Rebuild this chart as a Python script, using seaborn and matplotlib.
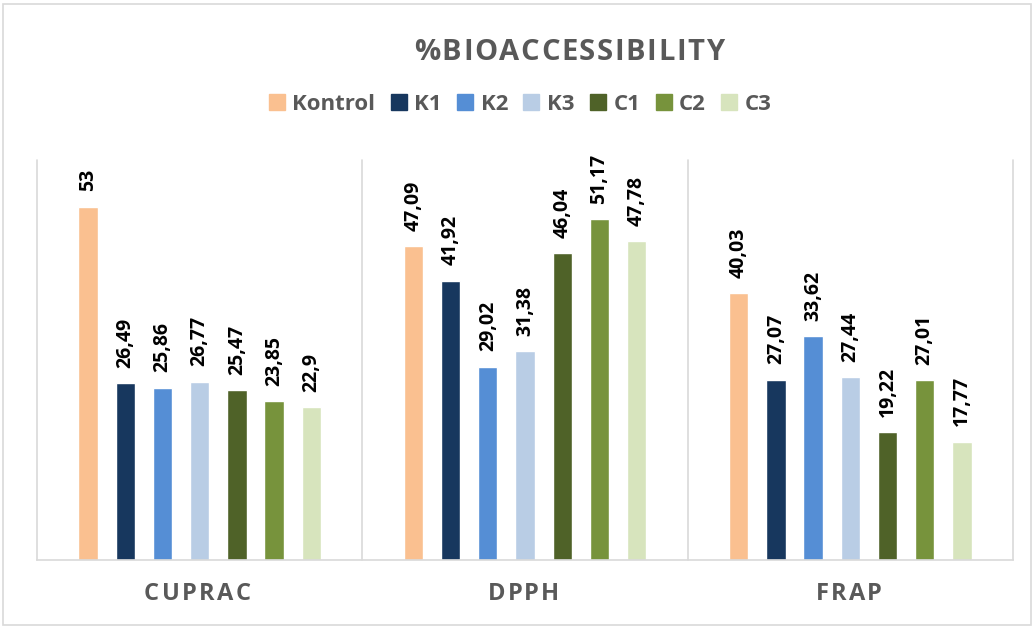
import matplotlib
matplotlib.use("Agg")
import matplotlib.pyplot as plt
from matplotlib.lines import Line2D
from matplotlib.patches import Rectangle
import seaborn as sns
import pandas as pd

# Bioaccessibility (%) per assay and sample
methods = ["CUPRAC", "DPPH", "FRAP"]
samples = ["Kontrol", "K1", "K2", "K3", "C1", "C2", "C3"]
cuprac = [53, 26.49, 25.86, 26.77, 25.47, 23.85, 22.9]
dpph = [47.09, 41.92, 29.02, 31.38, 46.04, 51.17, 47.78]
frap = [40.03, 27.07, 33.62, 27.44, 19.22, 27.01, 17.77]
colors = ["#FAC090", "#17375E", "#558ED5", "#B9CDE5", "#4F6228", "#77933C", "#D7E4BD"]

rows = []
for m, vals in zip(methods, [cuprac, dpph, frap]):
    for s, v in zip(samples, vals):
        rows.append({"method": m, "sample": s, "value": v})
df = pd.DataFrame(rows)

sns.set_theme(style="white")
plt.rcParams["font.family"] = ["Open Sans", "DejaVu Sans"]

W, H = 1035, 628
fig = plt.figure(figsize=(W / 100, H / 100), dpi=100)
ax = fig.add_axes([37 / W, 1 - 560 / H, (1013 - 37) / W, (560 - 160) / H])

sns.barplot(data=df, x="method", y="value", hue="sample", order=methods,
            hue_order=samples, palette=colors, width=0.8, gap=0.48,
            saturation=1, legend=False, ax=ax)

ax.set_xlim(-0.5, 2.5)
ax.set_ylim(0, 60)
ax.set_xlabel("")
ax.set_ylabel("")
ax.set_yticks([])
ax.set_xticks([])
for side in ["top", "right", "left"]:
    ax.spines[side].set_visible(False)
ax.spines["bottom"].set_color("#D9D9D9")
ax.spines["bottom"].set_linewidth(1.2)

# group separators
for xb in [-0.5, 0.5, 1.5, 2.5]:
    ax.axvline(xb, color="#D9D9D9", lw=1.2, clip_on=False)

# value labels above the bars
for container in ax.containers:
    for bar in container:
        h = bar.get_height()
        txt = f"{h:g}".replace(".", ",")
        ax.annotate(txt, (bar.get_x() + bar.get_width() / 2, h),
                    xytext=(0, 11), textcoords="offset points",
                    rotation=90, ha="center", va="bottom",
                    fontsize=14, fontweight="bold", color="black")

fig.canvas.draw()
renderer = fig.canvas.get_renderer()


def spaced_text(text, x0, x1, yc, size, color="#595959"):
    """Draw bold text spread between pixel x0 and x1 with even letter spacing."""
    widths = []
    for ch in text:
        t = fig.text(0, 0, ch, fontsize=size, fontweight="bold")
        widths.append(t.get_window_extent(renderer).width)
        t.remove()
    spacing = (x1 - x0 - sum(widths)) / (len(text) - 1)
    x = x0
    for ch, w in zip(text, widths):
        fig.text(x / W, 1 - yc / H, ch, fontsize=size, fontweight="bold",
                 color=color, ha="left", va="center")
        x += w + spacing


spaced_text("%BIOACCESSIBILITY", 414, 724, 52, 21)
spaced_text("CUPRAC", 144, 251, 594, 17)
spaced_text("DPPH", 488, 559, 594, 17)
spaced_text("FRAP", 816, 882, 594, 17)

handles = [Line2D([0], [0], marker="s", linestyle="none", markersize=11,
                  markerfacecolor=c, markeredgecolor=c) for c in colors]
fig.legend(handles, samples, loc="center", bbox_to_anchor=(521 / W, 1 - 104 / H),
           ncol=7, frameon=False, handlelength=0.6, handletextpad=0.4,
           columnspacing=0.75, prop={"size": 16, "weight": "bold"},
           labelcolor="#595959")

fig.patches.append(Rectangle((3 / W, 3 / H), (W - 7) / W, (H - 7) / H,
                             transform=fig.transFigure, fill=False,
                             edgecolor="#D9D9D9", lw=1.2))

fig.savefig("out.png", dpi=100, facecolor="white")
